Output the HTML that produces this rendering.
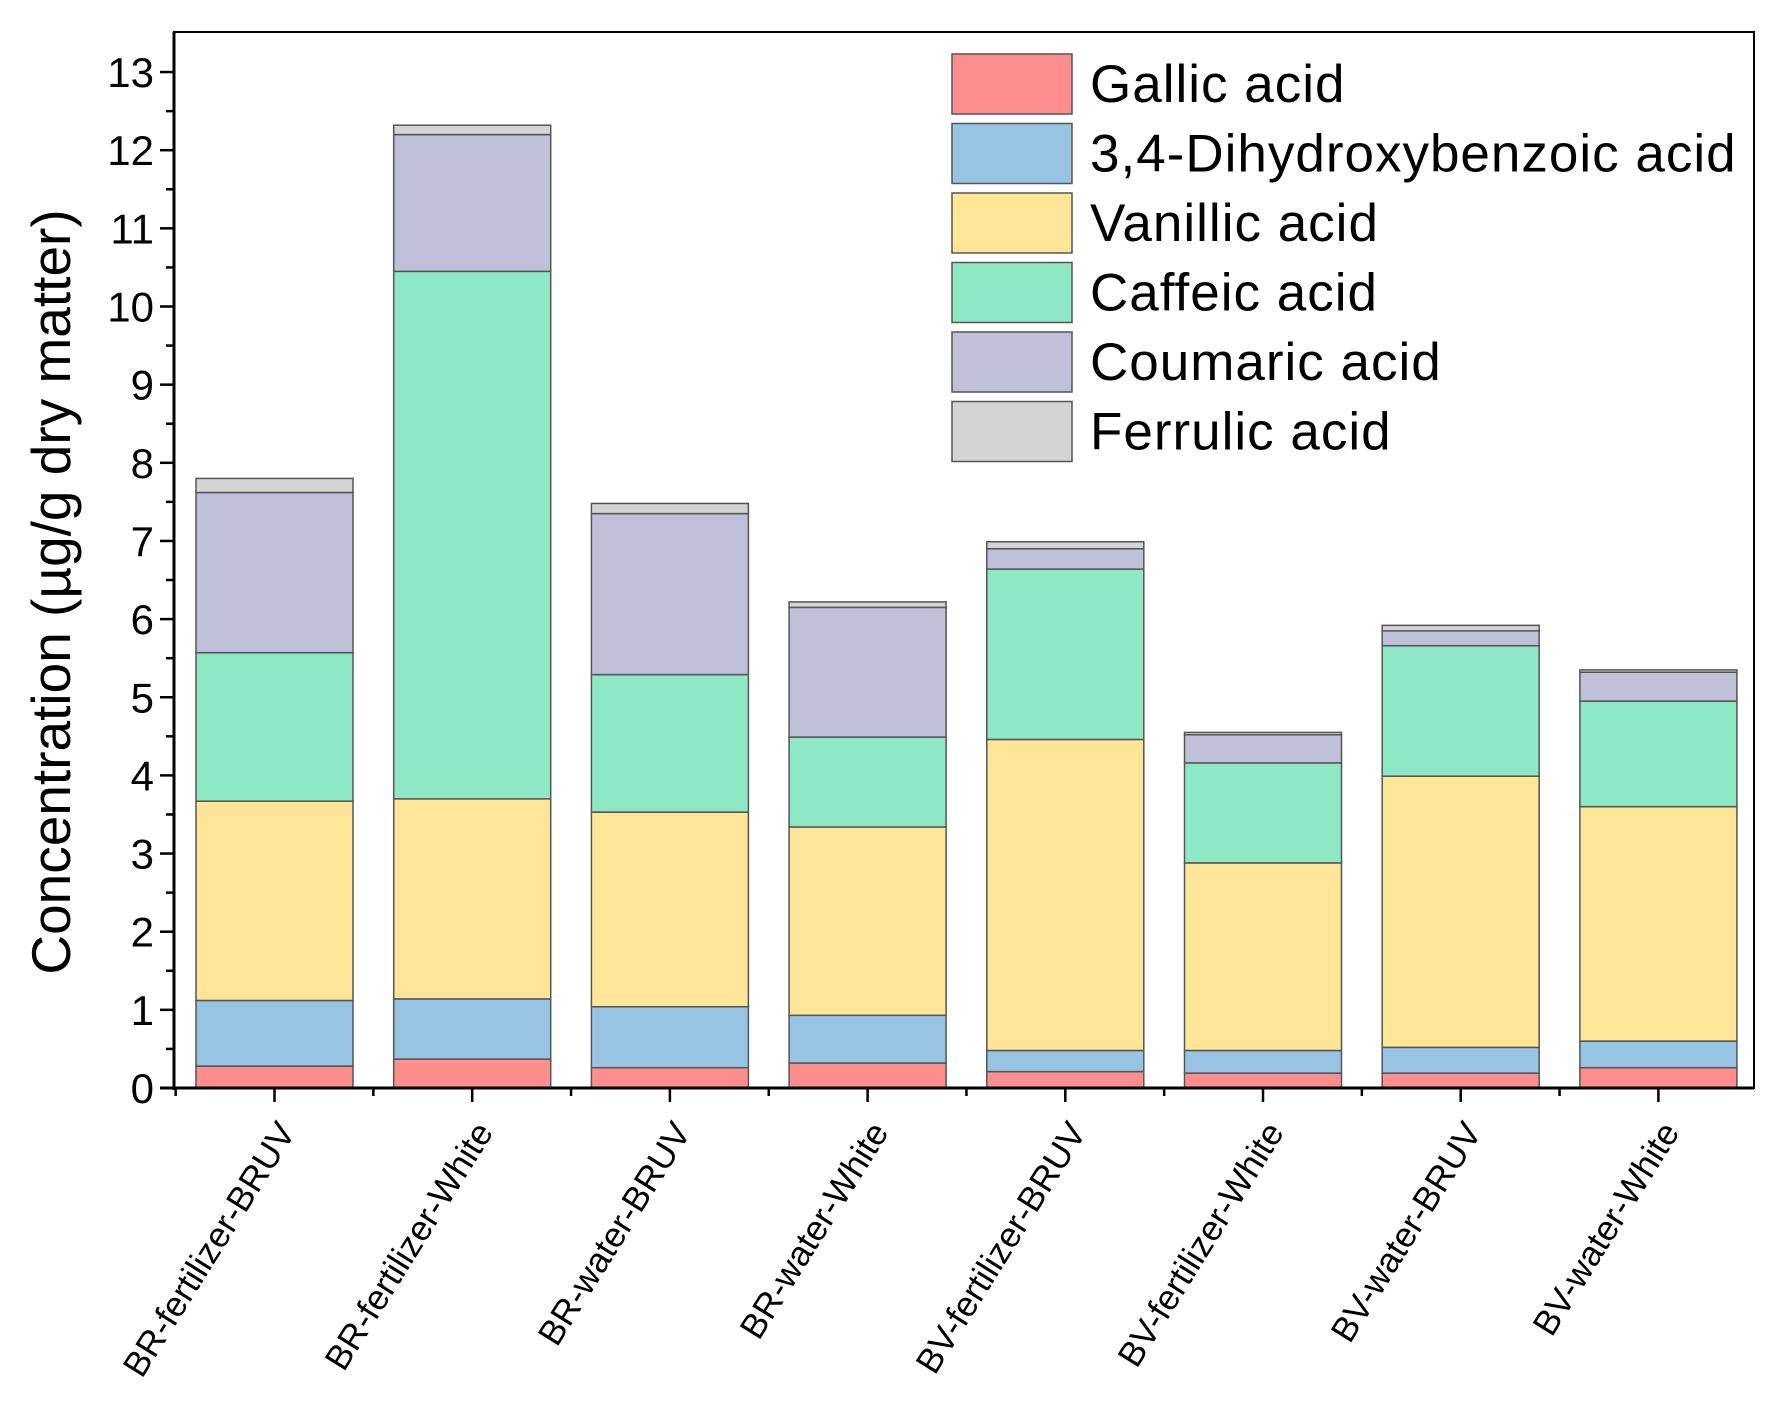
<!DOCTYPE html>
<html><head><meta charset="utf-8"><style>
html,body{margin:0;padding:0;background:#fff}
svg{display:block;font-family:"Liberation Sans",Arial,sans-serif}
</style></head><body>
<svg id="chart" width="1777" height="1427" viewBox="0 0 1777 1427">
<g id="bars"></g>
<g id="axes"></g>
<g id="legend"></g>
<text x="0" y="0" font-size="55" text-anchor="middle" transform="translate(70,592) rotate(-90)">Concentration (µg/g dry matter)</text>
</svg>
<script>
const categories=["BR-fertilizer-BRUV","BR-fertilizer-White","BR-water-BRUV","BR-water-White","BV-fertilizer-BRUV","BV-fertilizer-White","BV-water-BRUV","BV-water-White"];
const seriesNames=["Gallic acid","3,4-Dihydroxybenzoic acid","Vanillic acid","Caffeic acid","Coumaric acid","Ferrulic acid"];
const gallic=[0.28,0.37,0.26,0.32,0.21,0.19,0.19,0.26];
const dihydroxy=[0.84,0.77,0.78,0.61,0.27,0.29,0.33,0.34];
const vanillic=[2.55,2.56,2.49,2.41,3.98,2.40,3.47,3.00];
const caffeic=[1.90,6.75,1.76,1.15,2.18,1.28,1.67,1.35];
const coumaric=[2.05,1.75,2.06,1.66,0.26,0.36,0.19,0.37];
const ferrulic=[0.18,0.12,0.13,0.07,0.09,0.03,0.07,0.03];
const yTicks=[0,1,2,3,4,5,6,7,8,9,10,11,12,13];
const colors=["#fe8e8e","#97c4e3","#fee597","#8ee8c6","#c0c0d8","#d4d4d4"];
const series=[gallic,dihydroxy,vanillic,caffeic,coumaric,ferrulic];
const NS="http://www.w3.org/2000/svg";
const L=174,R=1754,T=32,B=1088;
const unit=78.15;
function y(v){return B-v*unit;}
const step=197.7,x0=274.5,bw=157;
function xc(i){return x0+i*step;}
function mk(tag,attrs,parent){const e=document.createElementNS(NS,tag);for(const k in attrs)e.setAttribute(k,attrs[k]);parent.appendChild(e);return e;}
const bars=document.getElementById('bars'),axes=document.getElementById('axes'),leg=document.getElementById('legend');
categories.forEach((c,i)=>{
  let cum=0;
  series.forEach((s,j)=>{
    const v=s[i];
    const r=mk('rect',{x:xc(i)-bw/2,y:y(cum+v),width:bw,height:v*unit,fill:colors[j],stroke:"#555",'stroke-width':1.5},bars);
    
    
    cum+=v;
  });
});
const fr=mk('rect',{x:L,y:T,width:R-L,height:B-T,fill:"none",stroke:"#000",'stroke-width':2},axes);


const yl=mk('line',{x1:L,y1:T,x2:L,y2:B+2,stroke:"#000",'stroke-width':3},axes);


const xl=mk('line',{x1:L-14,y1:B,x2:R,y2:B,stroke:"#000",'stroke-width':3},axes);


yTicks.forEach(t=>{
  mk('line',{x1:L-14,y1:y(t),x2:L,y2:y(t),stroke:"#000",'stroke-width':2.5},axes);
  if(t<13) mk('line',{x1:L-8,y1:y(t+0.5),x2:L,y2:y(t+0.5),stroke:"#000",'stroke-width':2.5},axes);
  const tx=mk('text',{x:L-20,y:y(t)+15,'font-size':42,'text-anchor':'end'},axes);
  tx.textContent=t;
  
  
});
categories.forEach((c,i)=>{
  mk('line',{x1:xc(i),y1:B,x2:xc(i),y2:B+14,stroke:"#000",'stroke-width':2.5},axes);
  mk('line',{x1:xc(i)-step/2,y1:B,x2:xc(i)-step/2,y2:B+8,stroke:"#000",'stroke-width':2.5},axes);
  const tx=mk('text',{x:0,y:0,'font-size':35,'text-anchor':'end',transform:`translate(${xc(i)+22},${B+44}) rotate(-58)`},axes);
  tx.textContent=c;
  
  
});
seriesNames.forEach((n,j)=>{
  const yy=54+j*69.5;
  const r=mk('rect',{x:952,y:yy,width:120,height:60,fill:colors[j],stroke:"#555",'stroke-width':1.5},leg);
  
  
  const tx=mk('text',{x:1090,y:yy+48,'font-size':53,'letter-spacing':1},leg);
  tx.textContent=n;
  
  
});
</script>
</body></html>
